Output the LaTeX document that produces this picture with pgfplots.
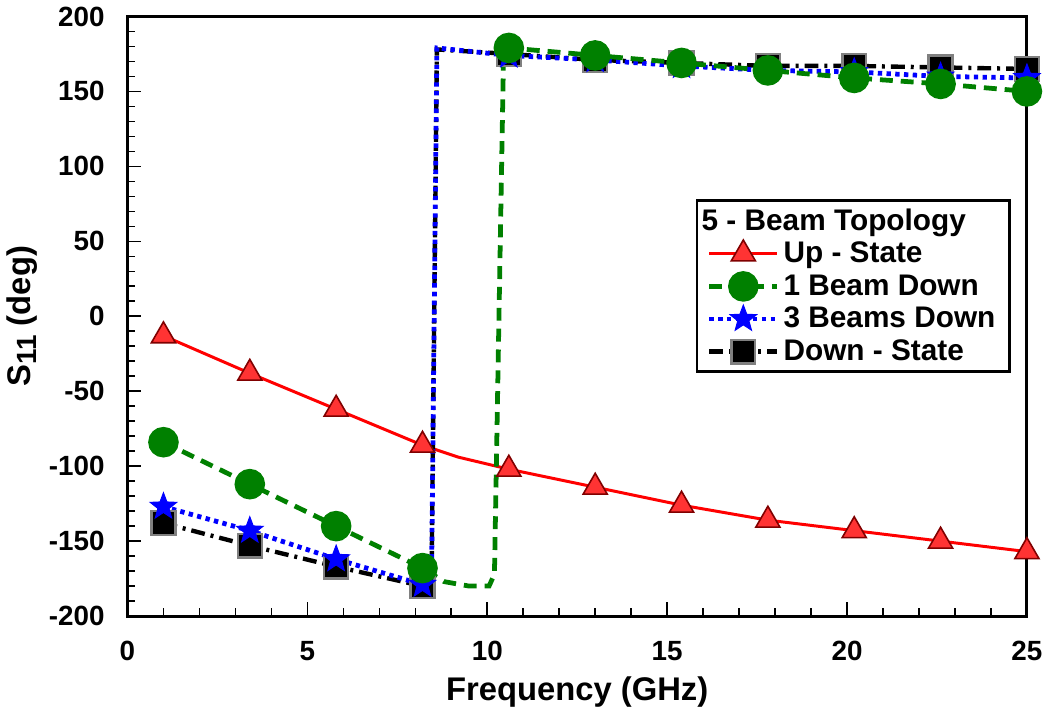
\documentclass[border=0pt]{standalone}
\usepackage{fontspec}
\setmainfont{Liberation Sans}
\usepackage{pgfplots}
\pgfplotsset{compat=1.18}
\usetikzlibrary{plotmarks}
\pgfdeclareplotmark{fstar}{%
  \pgfpathmoveto{\pgfpointpolar{90}{\pgfplotmarksize}}%
  \pgfpathlineto{\pgfpointpolar{126}{0.42\pgfplotmarksize}}%
  \pgfpathlineto{\pgfpointpolar{162}{\pgfplotmarksize}}%
  \pgfpathlineto{\pgfpointpolar{198}{0.42\pgfplotmarksize}}%
  \pgfpathlineto{\pgfpointpolar{234}{\pgfplotmarksize}}%
  \pgfpathlineto{\pgfpointpolar{270}{0.42\pgfplotmarksize}}%
  \pgfpathlineto{\pgfpointpolar{306}{\pgfplotmarksize}}%
  \pgfpathlineto{\pgfpointpolar{342}{0.42\pgfplotmarksize}}%
  \pgfpathlineto{\pgfpointpolar{18}{\pgfplotmarksize}}%
  \pgfpathlineto{\pgfpointpolar{54}{0.42\pgfplotmarksize}}%
  \pgfpathclose\pgfusepathqfillstroke}
\begin{document}
\begin{tikzpicture}
\begin{axis}[
  scale only axis,
  width=453pt, height=302pt,
  xmin=0, xmax=25, ymin=-200, ymax=200,
  xtick={0,5,...,25}, ytick={-200,-150,...,200},
  minor x tick num=4, minor y tick num=4,
  tick align=inside, xtick pos=bottom, ytick pos=left,
  major tick length=7pt, minor tick length=4pt,
  axis line style={line width=1.5pt},
  every tick/.style={black, line width=0.8pt},
  /pgf/number format/assume math mode=true,
  ticklabel style={font=\bfseries\fontsize{14}{16}\selectfont},
  xticklabel style={yshift=-9pt},
  yticklabel style={xshift=-8pt},
  xlabel={Frequency (GHz)},
  ylabel={S{\fontsize{14}{14}\selectfont\raisebox{-3pt}{11}} (deg)},
  label style={font=\bfseries\fontsize{16.5}{18}\selectfont},
  xlabel style={yshift=-1pt},
  ylabel style={yshift=-1pt},
  legend cell align=left,
  legend style={at={(0.632,0.695)}, anchor=north west, draw=black, line width=1.2pt,
    font=\bfseries\fontsize{15}{17}\selectfont, row sep=0.5pt, inner xsep=5pt},
  legend image code/.code={\draw[mark indices={2}] plot coordinates {(0cm,0cm)(0.6cm,0cm)(1.2cm,0cm)};},
]
\addlegendimage{empty legend}
\addlegendentry{\hspace{-1.45cm}5 - Beam Topology}
\addplot[red, line width=1.5pt, mark=triangle*, mark size=7pt,
  mark options={solid, fill=red!80, draw=red!50!black, line width=0.8pt},
  mark indices={1,2,3,4,6,7,8,9,10,11,12}]
  coordinates {(1,-13)(3.4,-38)(5.8,-62)(8.2,-86)(9.2,-94)(10.6,-102)(13,-114)(15.4,-126)(17.8,-136)(20.2,-143)(22.6,-150)(25,-157)};
\addlegendentry{Up - State}
\addplot[black, line width=2.2pt, dash pattern=on 7pt off 3pt on 1.5pt off 3pt, mark=square*, mark size=6pt,
  mark options={solid, fill=black, draw=gray, line width=1.2pt},
  mark indices={1,2,3,4,7,8,9,10,11,12,13}, forget plot]
  coordinates {(1,-138)(3.4,-153)(5.8,-167)(8.2,-180)(8.45,-180)(8.6,178)(10.6,175)(13,171)(15.4,169)(17.8,167)(20.2,167)(22.6,166)(25,165)};
\addplot[blue, line width=2.4pt, dash pattern=on 2.2pt off 2.2pt, mark=fstar, mark size=7pt,
  mark options={solid, fill=blue, draw=blue, line width=0.5pt},
  mark indices={1,2,3,4,7,8,9,10,11,12,13}, forget plot]
  coordinates {(1,-127)(3.4,-143)(5.8,-162)(8.2,-179)(8.45,-179)(8.6,179)(10.6,174)(13,171)(15.4,167)(17.8,164)(20.2,163)(22.6,160)(25,159)};
\addplot[green!50!black, line width=2.4pt, dash pattern=on 6.5pt off 4pt, mark=*, mark size=6.5pt,
  mark options={solid, fill=green!50!black, draw=green!50!black},
  mark indices={1,2,3,4,10,11,12,13,14,15,16}]
  coordinates {(1,-84)(3.4,-112)(5.8,-140)(8.2,-168)(8.8,-177)(9.5,-180)(10.05,-180)(10.2,-172)(10.45,170)(10.6,179)(13,174)(15.4,169)(17.8,164)(20.2,159)(22.6,155)(25,150)};
\addlegendentry{1 Beam Down}
\addlegendimage{blue, line width=2.4pt, dash pattern=on 2.2pt off 2.2pt, mark=fstar, mark size=7pt,
  mark options={solid, fill=blue, draw=blue, line width=0.5pt}}
\addlegendentry{3 Beams Down}
\addlegendimage{black, line width=2.2pt, dash pattern=on 7pt off 3pt on 1.5pt off 3pt, mark=square*, mark size=6pt,
  mark options={solid, fill=black, draw=gray, line width=1.2pt}}
\addlegendentry{Down - State}
\end{axis}
\end{tikzpicture}
\end{document}
